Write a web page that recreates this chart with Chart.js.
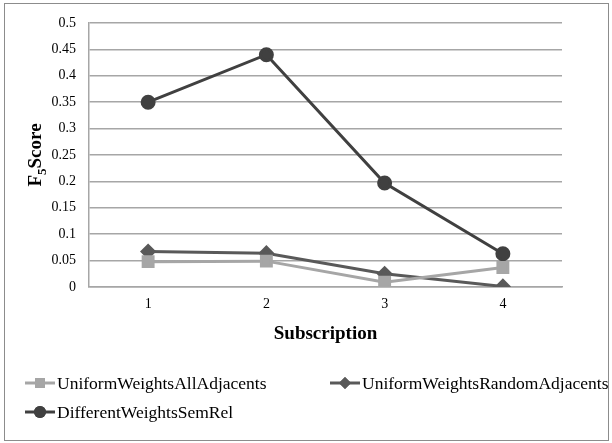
<!DOCTYPE html>
<html>
<head>
<meta charset="utf-8">
<script src="https://cdn.jsdelivr.net/npm/chart.js@4"></script>
<style>
  html, body { margin: 0; padding: 0; background: #fff; }
  #wrap { width: 612px; height: 443px; position: relative; }
</style>
</head>
<body>
<div id="wrap"><canvas id="chart"></canvas></div>
<script>
// data
const categories = ["1", "2", "3", "4"];
const allAdjacents = [0.048, 0.049, 0.009, 0.037];
const randomAdjacents = [0.067, 0.064, 0.025, 0.001];
const semRel = [0.35, 0.44, 0.197, 0.063];
const yTicks = [0, 0.05, 0.1, 0.15, 0.2, 0.25, 0.3, 0.35, 0.4, 0.45, 0.5];

const serif = "'Liberation Serif', 'Times New Roman', serif";

// outer frame + y title with subscript + word-style legend
const decorations = {
  id: "decorations",
  afterDraw(chart) {
    const ctx = chart.ctx;
    const area = chart.chartArea;
    ctx.save();

    // frame
    ctx.strokeStyle = "#8c8c8c";
    ctx.lineWidth = 1;
    ctx.strokeRect(4.5, 3.5, 604, 437);

    // y title: F5Score, rotated
    ctx.translate(41, (area.top + area.bottom) / 2);
    ctx.rotate(-Math.PI / 2);
    ctx.fillStyle = "#000";
    ctx.textBaseline = "alphabetic";
    ctx.textAlign = "left";
    const big = "bold 19px " + serif;
    const small = "bold 13px " + serif;
    ctx.font = big;
    const wF = ctx.measureText("F").width;
    const wS = ctx.measureText("Score").width;
    ctx.font = small;
    const w5 = ctx.measureText("5").width;
    let x = -(wF + w5 + wS) / 2;
    ctx.font = big;
    ctx.fillText("F", x, 0);
    x += wF;
    ctx.font = small;
    ctx.fillText("5", x, 5);
    x += w5;
    ctx.font = big;
    ctx.fillText("Score", x, 0);
    ctx.restore();

    // legend
    const spots = [
      { x: 25, y: 383 },
      { x: 330, y: 383 },
      { x: 25, y: 412 },
    ];
    ctx.save();
    ctx.font = "17.5px " + serif;
    ctx.textBaseline = "middle";
    chart.data.datasets.forEach((ds, i) => {
      const s = spots[i];
      ctx.strokeStyle = ds.borderColor;
      ctx.lineWidth = ds.borderWidth;
      ctx.beginPath();
      ctx.moveTo(s.x, s.y);
      ctx.lineTo(s.x + 30, s.y);
      ctx.stroke();
      ctx.fillStyle = ds.pointBackgroundColor;
      Chart.helpers.drawPoint(ctx, {
        pointStyle: ds.pointStyle,
        rotation: 0,
        borderWidth: 0
      }, s.x + 15, s.y);
      ctx.beginPath();
      Chart.helpers.drawPoint(ctx, {
        pointStyle: ds.pointStyle,
        radius: ds.pointRadius,
        rotation: 0,
        borderWidth: 0
      }, s.x + 15, s.y);
      ctx.fill();
      ctx.fillStyle = "#000";
      ctx.fillText(ds.label, s.x + 32, s.y + 1);
    });
    ctx.restore();
  }
};

new Chart(document.getElementById("chart"), {
  type: "line",
  data: {
    labels: categories,
    datasets: [
      {
        label: "UniformWeightsAllAdjacents",
        data: allAdjacents,
        borderColor: "#a6a6a6",
        backgroundColor: "#a6a6a6",
        pointBackgroundColor: "#a6a6a6",
        pointBorderColor: "#a6a6a6",
        pointStyle: "rect",
        pointRadius: 7,
        borderWidth: 3,
        tension: 0,
      },
      {
        label: "UniformWeightsRandomAdjacents",
        data: randomAdjacents,
        borderColor: "#595959",
        backgroundColor: "#595959",
        pointBackgroundColor: "#595959",
        pointBorderColor: "#595959",
        pointStyle: "rectRot",
        pointRadius: 6,
        borderWidth: 3,
        tension: 0,
      },
      {
        label: "DifferentWeightsSemRel",
        data: semRel,
        borderColor: "#404040",
        backgroundColor: "#404040",
        pointBackgroundColor: "#404040",
        pointBorderColor: "#404040",
        pointStyle: "circle",
        pointRadius: 6,
        borderWidth: 3,
        tension: 0,
      },
    ],
  },
  options: {
    responsive: true,
    maintainAspectRatio: false,
    animation: false,
    layout: {
      padding: { left: 49, right: 50, top: 23, bottom: 0 },
    },
    plugins: {
      legend: { display: false },
      tooltip: { enabled: false },
    },
    scales: {
      x: {
        offset: true,
        grid: { display: false, drawTicks: false },
        border: { display: true, color: "#a6a6a6", width: 1.5 },
        ticks: {
          padding: 9,
          color: "#000",
          font: { family: serif, size: 14 },
        },
        title: {
          display: true,
          text: "Subscription",
          color: "#000",
          font: { family: serif, size: 19, weight: "bold" },
          padding: { top: 0, bottom: 98 },
        },
        afterFit(scale) {
          scale.height = 156;
        },
      },
      y: {
        min: 0,
        max: 0.5,
        afterBuildTicks(scale) {
          scale.ticks = yTicks.map((v) => ({ value: v }));
        },
        grid: { color: "#a6a6a6", lineWidth: 1.5, drawTicks: false },
        border: { display: true, color: "#a6a6a6", width: 1.5 },
        ticks: {
          padding: 13,
          color: "#000",
          font: { family: serif, size: 14 },
          callback: (v) => String(+v.toFixed(2)),
        },
        afterFit(scale) {
          scale.width = 40;
        },
      },
    },
  },
  plugins: [decorations],
});
</script>
</body>
</html>
